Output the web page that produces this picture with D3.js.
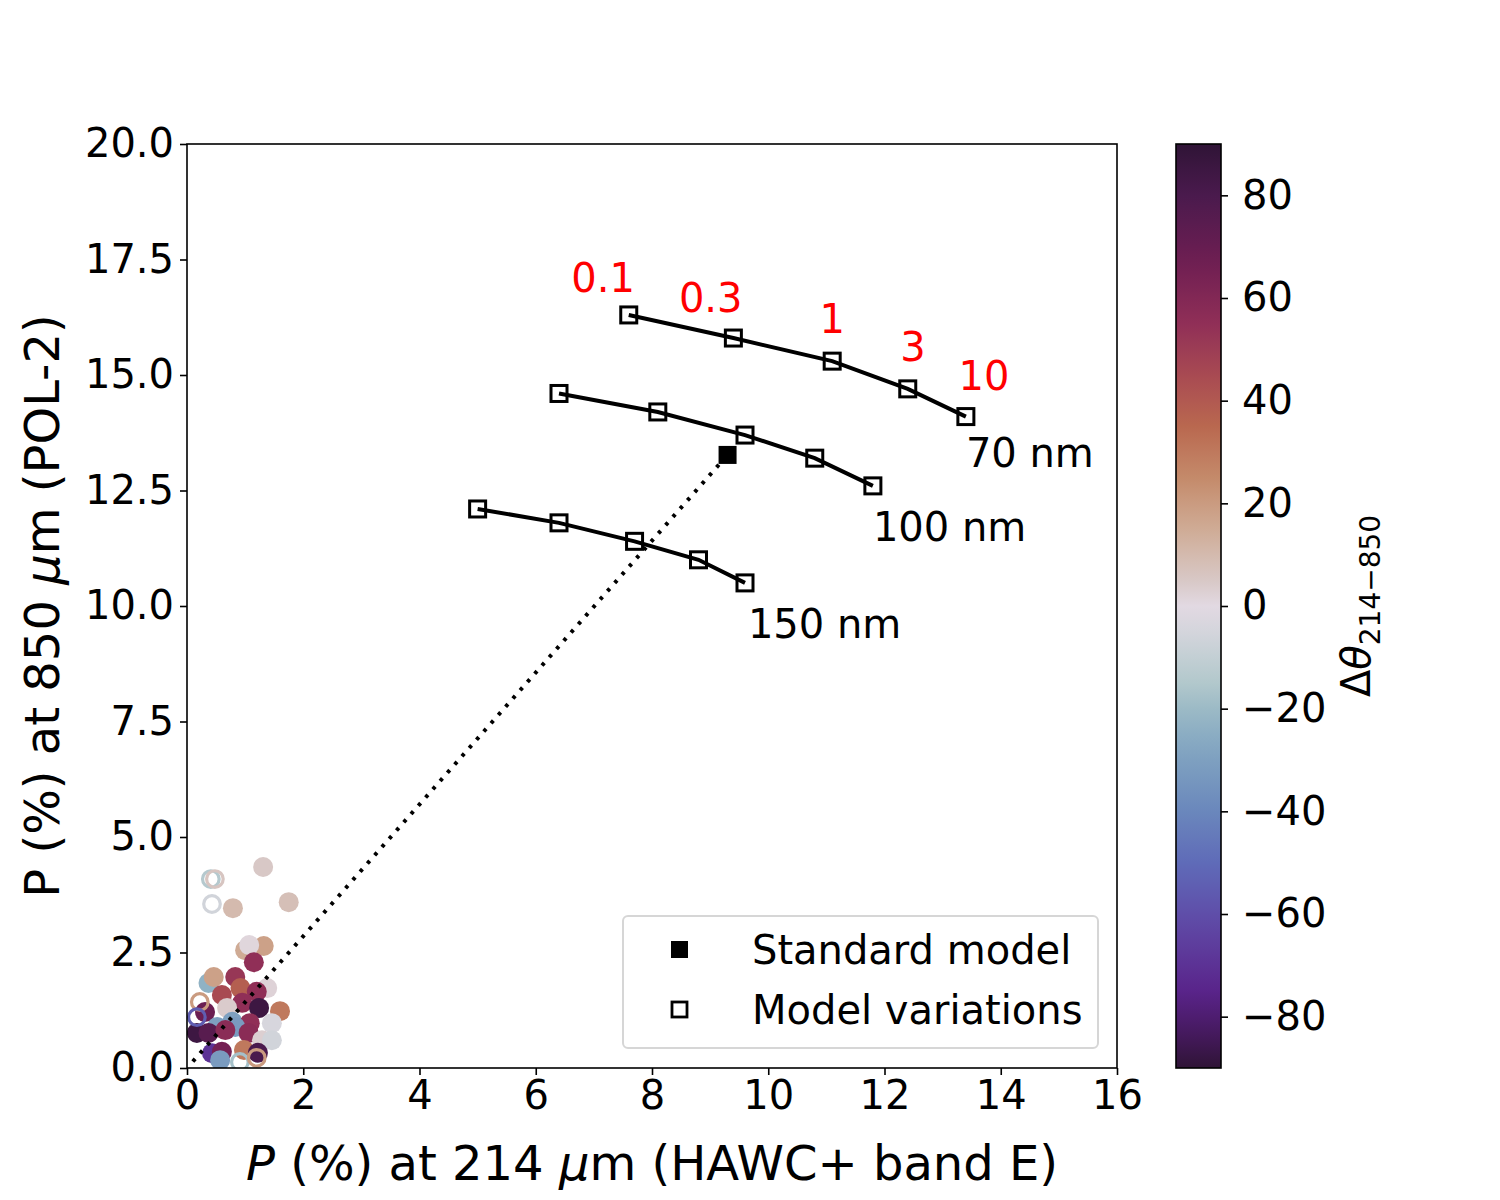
<!DOCTYPE html>
<html>
<head>
<meta charset="utf-8">
<script src="https://cdn.jsdelivr.net/npm/d3@7"></script>
<style>
body { margin: 0; background: #fff; }
text { font-family: "DejaVu Sans", sans-serif; }
</style>
</head>
<body>
<svg id="mainsvg" width="1500" height="1200"></svg>
<script>
// model tracks (P214, P850) for grain sizes
const sizeNames = ["70 nm", "100 nm", "150 nm"]
const modelX = [
    [7.6, 9.4, 11.1, 12.4, 13.4],
    [6.4, 8.1, 9.6, 10.8, 11.8],
    [5.0, 6.4, 7.7, 8.8, 9.6],
]
const modelY = [
    [16.3, 15.8, 15.3, 14.7, 14.1],
    [14.6, 14.2, 13.7, 13.2, 12.6],
    [12.1, 11.8, 11.4, 11.0, 10.5],
]
const sizeLabelX = [13.4, 11.8, 9.65]
const sizeLabelY = [13.0, 11.4, 9.3]

// red labels over the 70 nm track
const redLabels = ["0.1", "0.3", "1", "3", "10"]
const redLabelX = [7.16, 9.01, 11.1, 12.49, 13.71]
const redLabelY = [16.8, 16.36, 15.9, 15.3, 14.68]

const standardX = 9.3
const standardY = 13.27
const dottedStartX = 0.1
const dottedStartY = 0.14

// observed points (filled)
const obsX = [1.31, 1.75, 0.79, 1.00, 1.32, 1.07, 1.15, 0.37, 0.46, 0.83, 1.38, 0.92, 0.60, 1.20,
    0.95, 0.69, 1.24, 0.31, 1.60, 1.46, 0.78, 1.08, 0.52, 0.83, 0.17, 0.37, 0.66, 1.06, 1.29, 1.46,
    0.43, 0.60, 0.98, 0.57, 1.22]
const obsY = [4.35, 3.59, 3.46, 2.55, 2.64, 2.66, 2.29, 1.84, 1.97, 1.97, 1.73, 1.73, 1.58, 1.65,
    1.41, 1.30, 1.30, 1.21, 1.23, 0.97, 1.00, 0.97, 0.89, 0.89, 0.76, 0.76, 0.82, 0.76, 0.60, 0.60,
    0.32, 0.35, 0.39, 0.17, 0.33]
const obsDT = [5, 8, 10, 15, 18, 1, 55, -23, 18, 52, 2, 38, 45, 55,
    55, 4, 85, 68, 30, -4, -30, 55, -30, -32, 85, 75, 57, 57, 3, -6,
    -70, 65, 30, -32, 80]

// observed points (open)
const openX = [0.41, 0.48, 0.43, 0.22, 0.17, 0.91, 1.20]
const openY = [4.09, 4.09, 3.55, 1.43, 1.10, 0.13, 0.22]
const openDT = [-14, 6, -6, 20, -55, -18, 20]

const xTicks = [0, 2, 4, 6, 8, 10, 12, 14, 16]
const yTicks = [0, 2.5, 5, 7.5, 10, 12.5, 15, 17.5, 20]
const cbTicks = [-80, -60, -40, -20, 0, 20, 40, 60, 80]

const margin = { top: 144, left: 187 }
const innerWidth = 930
const innerHeight = 924
const fs = 40

const svg = d3.select('#mainsvg')

const xScale = d3.scaleLinear().domain([0, 16]).range([0, innerWidth])
const yScale = d3.scaleLinear().domain([0, 20]).range([innerHeight, 0])

// twilight_shifted-like colour map
const cmap = d3.scaleLinear()
    .domain([-90, -82, -75, -67, -60, -50, -40, -30, -22, -15, -5, 0, 5, 15, 25, 35, 45, 55, 67, 80, 90])
    .range(["#2f1436", "#4a1a66", "#59248a", "#5d3a9b", "#5f4ea9", "#5f6bb8", "#6a87bc", "#7ea0c0",
        "#93b5c4", "#b2c8cc", "#d4d5dc", "#e2d9e2", "#d8c8c6", "#cfab95", "#c48a6a", "#b9684f",
        "#a84a52", "#902f57", "#6e1e52", "#4a1a4d", "#2f1436"])
    .interpolate(d3.interpolateRgb)
    .clamp(true)

const g = svg.append('g')
    .attr('transform', `translate(${margin.left}, ${margin.top})`)

g.append('clipPath').attr('id', 'clip')
    .append('rect').attr('width', innerWidth).attr('height', innerHeight)

const plot = g.append('g').attr('clip-path', 'url(#clip)')

// filled points
obsX.forEach((x, i) => {
    plot.append('circle')
        .attr('cx', xScale(x))
        .attr('cy', yScale(obsY[i]))
        .attr('r', 10)
        .attr('fill', cmap(obsDT[i]))
})

// open points
openX.forEach((x, i) => {
    plot.append('circle')
        .attr('cx', xScale(x))
        .attr('cy', yScale(openY[i]))
        .attr('r', 8.3)
        .attr('fill', 'none')
        .attr('stroke', cmap(openDT[i]))
        .attr('stroke-width', 3.2)
})

// dotted line to standard model
plot.append('line')
    .attr('x1', xScale(dottedStartX)).attr('y1', yScale(dottedStartY))
    .attr('x2', xScale(standardX)).attr('y2', yScale(standardY))
    .attr('stroke', 'black')
    .attr('stroke-width', 4)
    .attr('stroke-dasharray', '3.5,7.5')

// model tracks
const line = d3.line().x(d => xScale(d[0])).y(d => yScale(d[1]))
modelX.forEach((xs, k) => {
    const pts = xs.map((x, i) => [x, modelY[k][i]])
    plot.append('path')
        .attr('d', line(pts))
        .attr('fill', 'none')
        .attr('stroke', 'black')
        .attr('stroke-width', 4)
    pts.forEach(p => {
        plot.append('rect')
            .attr('x', xScale(p[0]) - 8)
            .attr('y', yScale(p[1]) - 8)
            .attr('width', 16).attr('height', 16)
            .attr('fill', 'none')
            .attr('stroke', 'black')
            .attr('stroke-width', 3)
    })
    g.append('text').text(sizeNames[k])
        .attr('x', xScale(sizeLabelX[k]))
        .attr('y', yScale(sizeLabelY[k]))
        .attr('font-size', fs)
        .attr('fill', 'black')
})

plot.append('rect')
    .attr('x', xScale(standardX) - 9).attr('y', yScale(standardY) - 9)
    .attr('width', 18).attr('height', 18)
    .attr('fill', 'black')

redLabels.forEach((t, i) => {
    g.append('text').text(t)
        .attr('x', xScale(redLabelX[i]))
        .attr('y', yScale(redLabelY[i]))
        .attr('text-anchor', 'middle')
        .attr('font-size', fs)
        .attr('fill', 'red')
})

// axes
const xAxis = g.append('g').attr('transform', `translate(0, ${innerHeight})`)
    .call(d3.axisBottom(xScale).tickValues(xTicks).tickSize(7).tickPadding(6).tickFormat(d3.format('d')))
const yAxis = g.append('g')
    .call(d3.axisLeft(yScale).tickValues(yTicks).tickSize(7).tickPadding(6).tickFormat(d => d.toFixed(1)))
g.append('rect').attr('width', innerWidth).attr('height', innerHeight)
    .attr('fill', 'none').attr('stroke', 'black').attr('stroke-width', 1.6)
;[xAxis, yAxis].forEach(a => {
    a.attr('font-size', fs).attr('font-family', '"DejaVu Sans", sans-serif')
    a.select('.domain').remove()
    a.selectAll('.tick line').attr('stroke-width', 1.6)
    a.selectAll('.tick text').attr('fill', 'black')
})

// axis labels
g.append('text')
    .attr('x', innerWidth / 2).attr('y', innerHeight + 112)
    .attr('text-anchor', 'middle').attr('font-size', 48)
    .html('<tspan font-style="italic">P</tspan> (%) at 214 <tspan font-style="italic">μ</tspan>m (HAWC+ band E)')
g.append('text')
    .attr('transform', `translate(-128, ${innerHeight / 2}) rotate(-90)`)
    .attr('text-anchor', 'middle').attr('font-size', 48)
    .html('P (%) at 850 <tspan font-style="italic">μ</tspan>m (POL-2)')

// legend
const lg = g.append('g').attr('transform', `translate(${623 - margin.left}, ${916 - margin.top})`)
lg.append('rect').attr('width', 475).attr('height', 132).attr('rx', 5)
    .attr('fill', 'white').attr('fill-opacity', 0.8)
    .attr('stroke', '#d6d6d6').attr('stroke-width', 2)
lg.append('rect').attr('x', 48).attr('y', 25).attr('width', 17).attr('height', 17).attr('fill', 'black')
lg.append('rect').attr('x', 49).attr('y', 86).attr('width', 15).attr('height', 15)
    .attr('fill', 'none').attr('stroke', 'black').attr('stroke-width', 2.8)
lg.append('text').text('Standard model').attr('x', 129).attr('y', 48).attr('font-size', fs)
lg.append('text').text('Model variations').attr('x', 129).attr('y', 108).attr('font-size', fs)

// colorbar
const cbX = 1176, cbW = 45
const cbScale = d3.scaleLinear().domain([-90, 90]).range([innerHeight, 0])
const defs = svg.append('defs')
const grad = defs.append('linearGradient').attr('id', 'cbgrad')
    .attr('x1', 0).attr('y1', 1).attr('x2', 0).attr('y2', 0)
d3.range(-90, 91, 5).forEach(v => {
    grad.append('stop').attr('offset', (v + 90) / 180).attr('stop-color', cmap(v))
})
const cb = svg.append('g').attr('transform', `translate(${cbX}, ${margin.top})`)
cb.append('rect').attr('width', cbW).attr('height', innerHeight).attr('fill', 'url(#cbgrad)')
    .attr('stroke', 'black').attr('stroke-width', 1.6)
const cbAxis = cb.append('g').attr('transform', `translate(${cbW}, 0)`)
    .call(d3.axisRight(cbScale).tickValues(cbTicks).tickSize(7).tickPadding(14)
        .tickFormat(d => d < 0 ? '\u2212' + Math.abs(d) : d))
cbAxis.attr('font-size', fs).attr('font-family', '"DejaVu Sans", sans-serif')
cbAxis.select('.domain').remove()
cbAxis.selectAll('.tick line').attr('stroke-width', 1.6)
cbAxis.selectAll('.tick text').attr('fill', 'black')

svg.append('text')
    .attr('transform', `translate(1370, ${margin.top + innerHeight / 2}) rotate(-90)`)
    .attr('text-anchor', 'middle').attr('font-size', fs)
    .html('Δ<tspan font-style="italic">θ</tspan><tspan font-size="28" dy="10">214−850</tspan>')
</script>
</body>
</html>
